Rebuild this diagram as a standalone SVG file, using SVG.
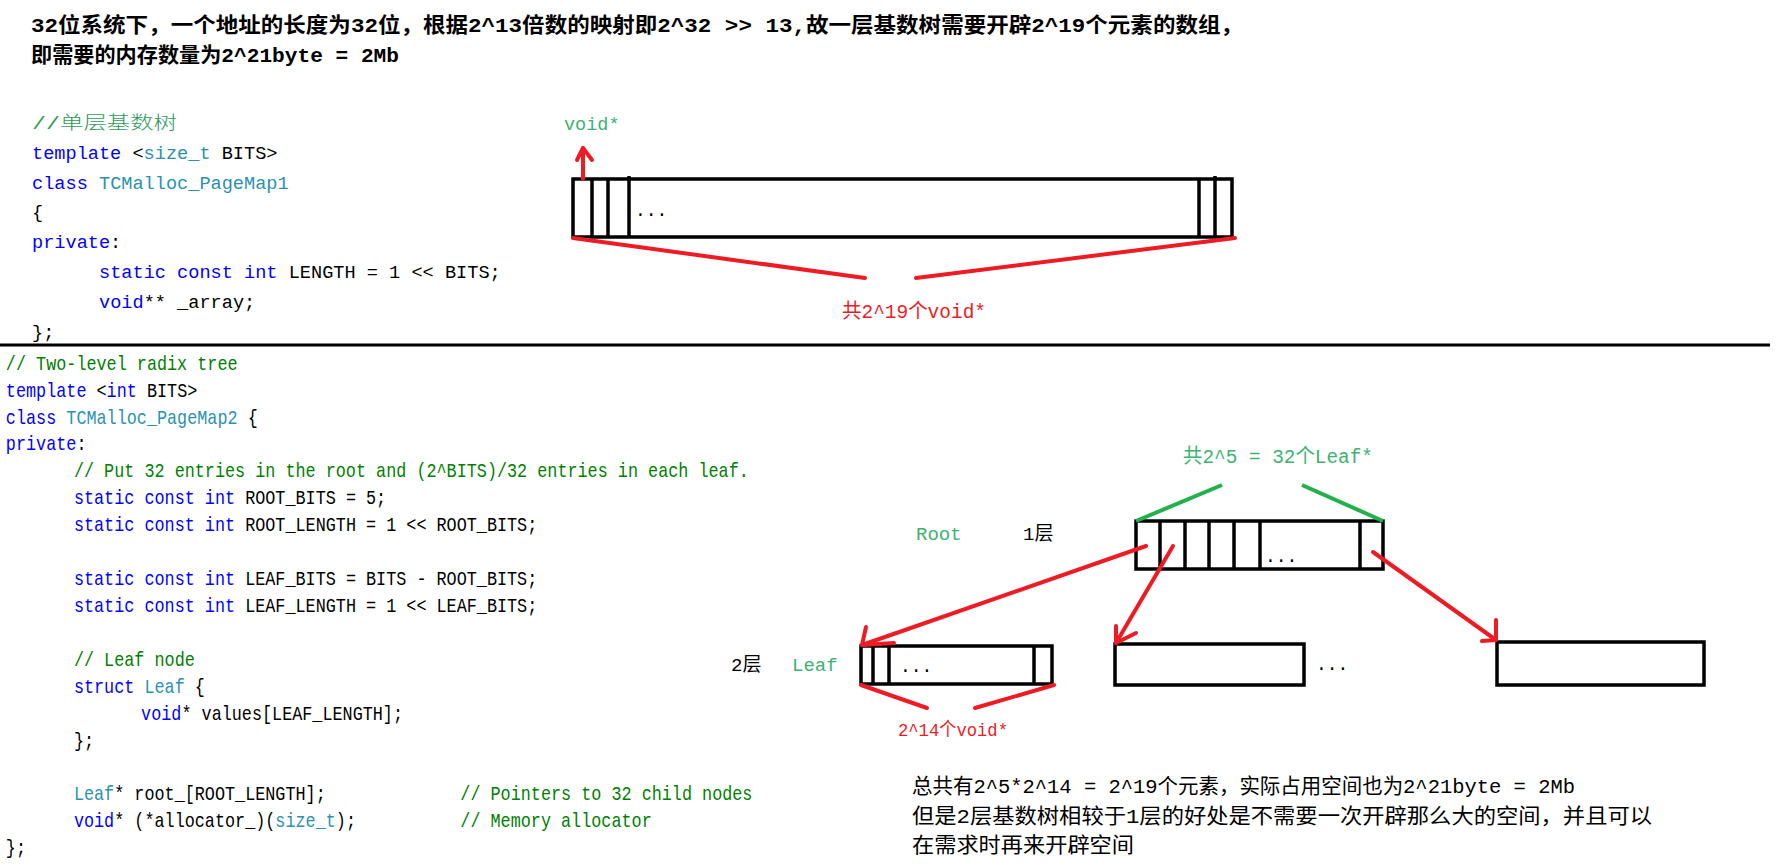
<svg xmlns="http://www.w3.org/2000/svg" width="1788" height="868" viewBox="0 0 1788 868">
<style>
.mono{font-family:"Liberation Mono","Noto Sans CJK SC",monospace;}
.cjk{font-family:"Liberation Mono","Noto Sans CJK SC",sans-serif;}
.c1{font-size:18.6px;}
.c2{font-size:20px;}
.kw{fill:#0000ff;}
.ty{fill:#2b91af;}
.cm{fill:#008000;}
.tx{fill:#000;}
.box{fill:#fff;stroke:#000;stroke-width:3.5;}
.div{stroke:#000;stroke-width:3.5;}
.red{stroke:#ed1c24;stroke-width:4;fill:none;stroke-linecap:round;stroke-linejoin:round;}
.grn{stroke:#22b14c;stroke-width:4;fill:none;}
.glab{fill:#3cb371;}
.rlab{fill:#ed1c24;}
</style>
<rect width="1788" height="868" fill="#fff"/>

<g id="intro" class="cjk" font-weight="bold" font-size="21">
  <text x="31" y="32" textLength="1212" lengthAdjust="spacingAndGlyphs">32位系统下，一个地址的长度为32位，根据2^13倍数的映射即2^32 &gt;&gt; 13,故一层基数树需要开辟2^19个元素的数组，</text>
  <text x="31" y="62" textLength="368" lengthAdjust="spacingAndGlyphs">即需要的内存数量为2^21byte = 2Mb</text>
</g>

<g id="code1" class="mono c1">
  <text x="32" y="129" fill="#2e9b5a" font-weight="300" textLength="145" lengthAdjust="spacingAndGlyphs">//单层基数树</text>
  <text x="32" y="159"><tspan class="kw">template</tspan><tspan class="tx"> &lt;</tspan><tspan class="ty">size_t</tspan><tspan class="tx"> BITS&gt;</tspan></text>
  <text x="32" y="189"><tspan class="kw">class</tspan><tspan class="tx"> </tspan><tspan class="ty">TCMalloc_PageMap1</tspan></text>
  <text x="32" y="218" class="tx">{</text>
  <text x="32" y="248"><tspan class="kw">private</tspan><tspan class="tx">:</tspan></text>
  <text x="99" y="278"><tspan class="kw">static const int</tspan><tspan class="tx"> LENGTH = 1 &lt;&lt; BITS;</tspan></text>
  <text x="99" y="308"><tspan class="kw">void</tspan><tspan class="tx">** _array;</tspan></text>
  <text x="32" y="338" class="tx">};</text>
</g>

<line id="separator" x1="0" y1="345" x2="1770" y2="345" stroke="#000" stroke-width="3"/>

<g id="code2" class="mono c2" transform="scale(0.84,1)">
  <text x="7" y="370" class="cm">// Two-level radix tree</text>
  <text x="7" y="397"><tspan class="kw">template</tspan><tspan class="tx"> &lt;</tspan><tspan class="kw">int</tspan><tspan class="tx"> BITS&gt;</tspan></text>
  <text x="7" y="424"><tspan class="kw">class</tspan><tspan class="tx"> </tspan><tspan class="ty">TCMalloc_PageMap2</tspan><tspan class="tx"> {</tspan></text>
  <text x="7" y="450"><tspan class="kw">private</tspan><tspan class="tx">:</tspan></text>
  <text x="88" y="477" class="cm">// Put 32 entries in the root and (2^BITS)/32 entries in each leaf.</text>
  <text x="88" y="504"><tspan class="kw">static const int</tspan><tspan class="tx"> ROOT_BITS = 5;</tspan></text>
  <text x="88" y="531"><tspan class="kw">static const int</tspan><tspan class="tx"> ROOT_LENGTH = 1 &lt;&lt; ROOT_BITS;</tspan></text>
  <text x="88" y="585"><tspan class="kw">static const int</tspan><tspan class="tx"> LEAF_BITS = BITS - ROOT_BITS;</tspan></text>
  <text x="88" y="612"><tspan class="kw">static const int</tspan><tspan class="tx"> LEAF_LENGTH = 1 &lt;&lt; LEAF_BITS;</tspan></text>
  <text x="88" y="666" class="cm">// Leaf node</text>
  <text x="88" y="693"><tspan class="kw">struct</tspan><tspan class="tx"> </tspan><tspan class="ty">Leaf</tspan><tspan class="tx"> {</tspan></text>
  <text x="168" y="720"><tspan class="kw">void</tspan><tspan class="tx">* values[LEAF_LENGTH];</tspan></text>
  <text x="88" y="747" class="tx">};</text>
  <text x="88" y="800"><tspan class="ty">Leaf</tspan><tspan class="tx">* root_[ROOT_LENGTH];</tspan></text>
  <text x="548" y="800" class="cm">// Pointers to 32 child nodes</text>
  <text x="88" y="827"><tspan class="kw">void</tspan><tspan class="tx">* (*allocator_)(</tspan><tspan class="ty">size_t</tspan><tspan class="tx">);</tspan></text>
  <text x="548" y="827" class="cm">// Memory allocator</text>
  <text x="7" y="854" class="tx">};</text>
</g>

<g id="array1">
  <rect class="box" x="573" y="179" width="659" height="58"/>
  <line class="div" x1="592" y1="179" x2="592" y2="237"/>
  <line class="div" x1="608" y1="179" x2="608" y2="237"/>
  <line class="div" x1="629" y1="176" x2="629" y2="237"/>
  <line class="div" x1="1199" y1="179" x2="1199" y2="237"/>
  <line class="div" x1="1215" y1="176" x2="1215" y2="237"/>
  <text class="mono" x="635" y="216" font-size="18">...</text>
</g>

<g id="label-void" class="mono">
  <text x="564" y="130" font-size="18.5" class="glab">void*</text>
</g>
<g id="label-2-19" class="cjk">
  <text x="842" y="318" font-size="20" class="rlab" textLength="144" lengthAdjust="spacingAndGlyphs">共2^19个void*</text>
</g>

<g id="root">
  <rect class="box" x="1136" y="521" width="247" height="48"/>
  <line class="div" x1="1160" y1="521" x2="1160" y2="569"/>
  <line class="div" x1="1185" y1="521" x2="1185" y2="569"/>
  <line class="div" x1="1209" y1="521" x2="1209" y2="569"/>
  <line class="div" x1="1234" y1="521" x2="1234" y2="569"/>
  <line class="div" x1="1260" y1="521" x2="1260" y2="569"/>
  <line class="div" x1="1360" y1="521" x2="1360" y2="569"/>
  <text class="mono" x="1265" y="562" font-size="18">...</text>
</g>
<g id="label-root" class="cjk" font-size="19">
  <text x="916" y="540" class="glab">Root</text>
  <text x="1023" y="540" fill="#000">1层</text>
</g>
<g id="label-32" class="cjk">
  <text x="1183" y="463" font-size="20" class="glab" textLength="190" lengthAdjust="spacingAndGlyphs">共2^5 = 32个Leaf*</text>
</g>

<g id="leaf1">
  <rect class="box" x="861" y="646" width="191" height="38"/>
  <line class="div" x1="873" y1="646" x2="873" y2="684"/>
  <line class="div" x1="889" y1="646" x2="889" y2="684"/>
  <line class="div" x1="1034" y1="646" x2="1034" y2="684"/>
  <text class="mono" x="900" y="672" font-size="18">...</text>
</g>
<g id="leaf2">
  <rect class="box" x="1115" y="644" width="189" height="41"/>
</g>
<g id="leaf-gap">
  <text class="mono" x="1316" y="670" font-size="18">...</text>
</g>
<g id="leaf3">
  <rect class="box" x="1497" y="642" width="207" height="43"/>
</g>
<g id="label-leaf" class="cjk" font-size="19">
  <text x="731" y="671" fill="#000">2层</text>
  <text x="792" y="671" class="glab">Leaf</text>
</g>
<g id="label-2-14" class="cjk">
  <text x="898" y="736" font-size="19" class="rlab" textLength="110" lengthAdjust="spacingAndGlyphs">2^14个void*</text>
</g>

<g id="summary" class="cjk" font-size="21" fill="#000">
  <text x="912" y="793" textLength="663" lengthAdjust="spacingAndGlyphs">总共有2^5*2^14 = 2^19个元素，实际占用空间也为2^21byte = 2Mb</text>
  <text x="912" y="823" textLength="740" lengthAdjust="spacingAndGlyphs">但是2层基数树相较于1层的好处是不需要一次开辟那么大的空间，并且可以</text>
  <text x="912" y="852" textLength="222" lengthAdjust="spacingAndGlyphs">在需求时再来开辟空间</text>
</g>

<g id="connectors">
  <line class="red" x1="583" y1="179" x2="583" y2="148"/>
  <polyline class="red" points="577,160 583,148 592,160"/>
  <line class="red" x1="573" y1="238" x2="865" y2="278"/>
  <line class="red" x1="916" y1="278" x2="1235" y2="238"/>
  <line class="grn" x1="1136" y1="521" x2="1222" y2="485"/>
  <line class="grn" x1="1302" y1="485" x2="1383" y2="521"/>
  <line class="red" x1="1146" y1="546" x2="862" y2="645"/>
  <polyline class="red" points="866,627 862,645 894,643"/>
  <line class="red" x1="1173" y1="546" x2="1116" y2="643"/>
  <polyline class="red" points="1116,626 1116,643 1136,633"/>
  <line class="red" x1="1373" y1="552" x2="1496" y2="640"/>
  <polyline class="red" points="1496,620 1496,640 1482,641"/>
  <line class="red" x1="861" y1="685" x2="927" y2="708"/>
  <line class="red" x1="975" y1="708" x2="1054" y2="685"/>
</g>
</svg>
